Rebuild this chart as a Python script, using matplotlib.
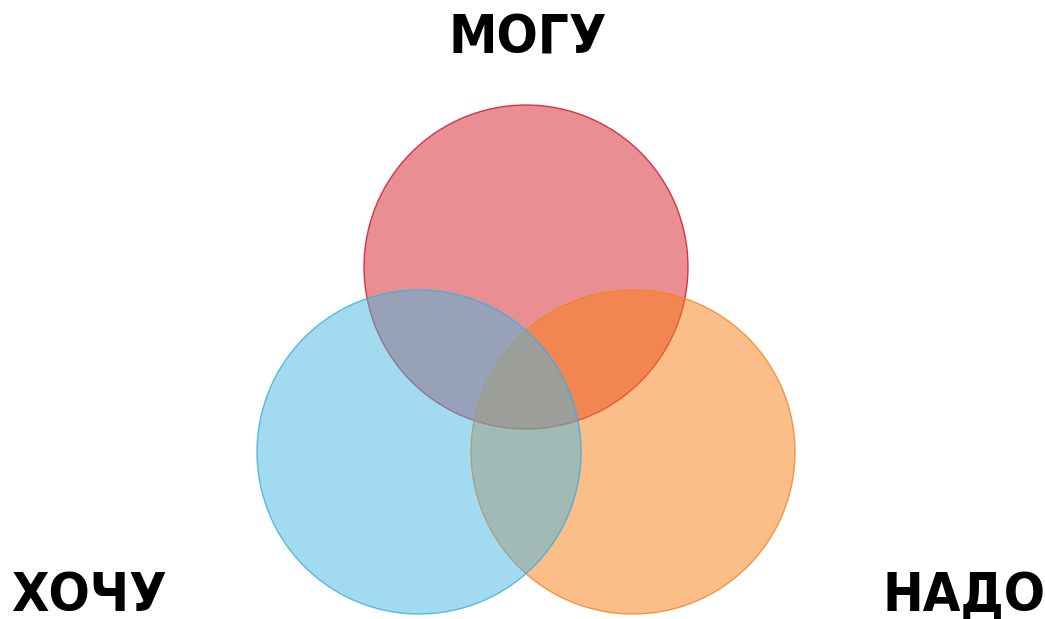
import matplotlib.pyplot as plt
from matplotlib.patches import Circle

labels = ["МОГУ", "НАДО", "ХОЧУ"]
centers = [(526, 267), (633, 452), (419, 452)]
radius = 162
fills = ["#D51F27", "#FB7F15", "#47B7E1"]
edges = ["#D0102A", "#F7801E", "#3AAEDB"]
label_pos = [(528, 38), (964, 596), (89, 596)]

fig = plt.figure(figsize=(10.45, 6.19), dpi=100)
ax = fig.add_axes([0, 0, 1, 1])
ax.set_xlim(0, 1045)
ax.set_ylim(619, 0)
ax.set_aspect("equal")
ax.axis("off")

# порядок: красный, оранжевый, голубой сверху
for c, fc, ec in zip(centers, fills, edges):
    ax.add_patch(Circle(c, radius, facecolor=fc, alpha=0.5, edgecolor="none"))
    ax.add_patch(Circle(c, radius, facecolor="none", edgecolor=ec, lw=1.0, alpha=0.8))

for txt, (x, y) in zip(labels, label_pos):
    ax.text(x, y, txt, ha="center", va="center", fontsize=39,
            fontweight="bold", fontstretch="condensed", family="DejaVu Sans")

fig.savefig("out.png", dpi=100)
